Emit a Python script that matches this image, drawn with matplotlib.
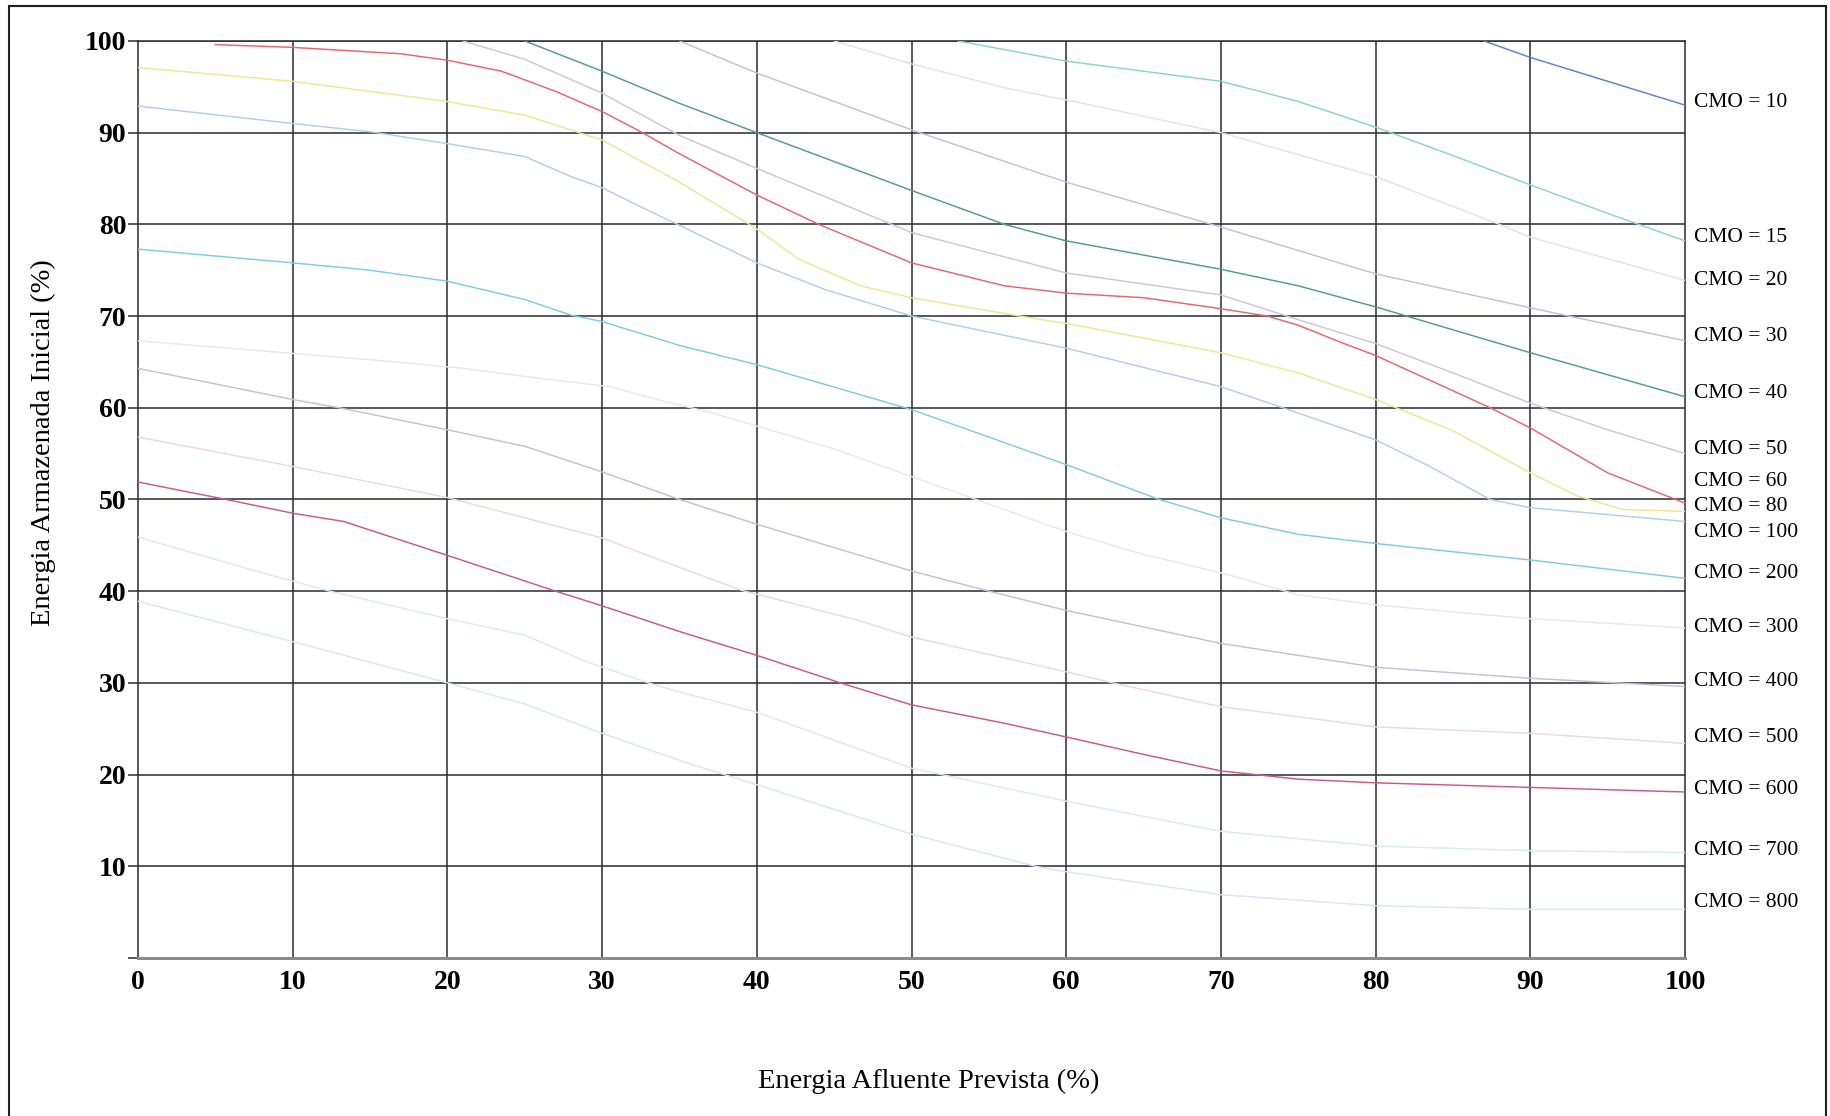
import matplotlib
matplotlib.use("Agg")
import matplotlib.pyplot as plt
from matplotlib.patches import Rectangle

# curves (x = energia afluente %, y = armazenamento %)
cmo10_x = [87, 90, 95, 100]
cmo10_y = [100, 98.2, 95.6, 93.0]
cmo15_x = [53, 60, 70, 75, 80, 85, 90, 95, 100]
cmo15_y = [100, 97.8, 95.6, 93.4, 90.6, 87.5, 84.3, 81.2, 78.2]
cmo20_x = [45, 50, 56, 60.5, 70, 80, 88, 90, 100]
cmo20_y = [100, 97.5, 94.9, 93.4, 90.0, 85.2, 80.0, 78.6, 73.9]
cmo30_x = [35, 40, 50, 60, 70, 80, 90, 100]
cmo30_y = [100, 96.5, 90.3, 84.6, 79.7, 74.6, 70.9, 67.3]
cmo40_x = [25, 30, 35, 40, 50, 56, 60, 70, 75, 80, 90, 100]
cmo40_y = [100, 96.7, 93.2, 90.0, 83.7, 80.0, 78.2, 75.1, 73.3, 71.0, 66.0, 61.2]
cmo50_x = [21, 25, 30, 35, 40, 50, 60, 70, 75, 80, 85, 90, 95, 100]
cmo50_y = [100, 98.0, 94.3, 89.7, 86.1, 79.1, 74.7, 72.3, 69.6, 67.0, 63.8, 60.5, 57.6, 55.0]
cmo60_x = [5, 10, 17, 20, 23.5, 27, 30, 32.5, 35, 40, 44, 50, 56, 60, 65, 70, 73, 75,
           77.8, 80, 87.4, 90, 95, 100]
cmo60_y = [99.6, 99.3, 98.6, 97.9, 96.7, 94.5, 92.3, 90.1, 87.7, 83.2, 80.0, 75.8, 73.3,
           72.5, 72.0, 70.8, 70.0, 69.0, 67.1, 65.7, 60.0, 57.8, 52.9, 49.6]
cmo80_x = [0, 10, 20, 25, 30, 35, 40, 42.7, 46.7, 50, 57, 60, 70, 75, 80, 85, 90, 93, 96, 100]
cmo80_y = [97.1, 95.6, 93.4, 91.9, 89.2, 84.6, 79.5, 76.2, 73.3, 72.0, 70.0, 69.2, 66.0,
           63.8, 60.9, 57.5, 52.9, 50.4, 48.9, 48.7]
cmo100_x = [0, 10, 15, 20, 25, 28, 30, 33, 35, 40, 44.4, 50, 60, 70, 74, 80, 83.5, 87.4, 90, 100]
cmo100_y = [92.9, 91.0, 90.1, 88.8, 87.4, 85.2, 84.0, 81.5, 79.9, 75.8, 72.9, 70.0, 66.5,
            62.3, 60.0, 56.5, 53.6, 50.0, 49.1, 47.6]
cmo200_x = [0, 10, 15, 20, 25, 28, 30, 35, 40, 50, 60, 66, 70, 75, 80, 90, 100]
cmo200_y = [77.3, 75.8, 75.0, 73.8, 71.8, 70.1, 69.4, 66.8, 64.7, 59.8, 53.8, 50.0, 48.0,
            46.2, 45.2, 43.4, 41.4]
cmo300_x = [0, 8, 16, 21, 26, 30.5, 34, 37, 45, 50, 55, 60, 65, 70, 75, 80, 90, 100]
cmo300_y = [67.3, 66.2, 65.1, 64.3, 63.2, 62.3, 60.7, 59.5, 55.5, 52.5, 49.5, 46.5, 44.0,
            42.0, 39.6, 38.5, 37.0, 36.0]
cmo400_x = [0, 10, 13, 20, 25, 30, 35, 40, 50, 55, 60, 70, 80, 90, 100]
cmo400_y = [64.3, 60.9, 60.0, 57.6, 55.8, 53.0, 50.0, 47.3, 42.2, 40.0, 37.9, 34.3, 31.7, 30.5, 29.6]
cmo500_x = [0, 10, 20, 30, 35, 39, 46.6, 50, 60, 63, 70, 80, 90, 100]
cmo500_y = [56.8, 53.6, 50.2, 45.8, 42.6, 40.1, 36.8, 35.0, 31.2, 30.0, 27.4, 25.2, 24.5, 23.4]
cmo600_x = [0, 5.7, 10, 13.3, 20, 27, 30, 35, 40, 45.4, 50, 56, 60, 65, 70, 75, 80, 90, 100]
cmo600_y = [51.9, 50.0, 48.5, 47.6, 43.9, 40.0, 38.4, 35.6, 33.0, 30.0, 27.6, 25.6, 24.1,
            22.2, 20.4, 19.5, 19.1, 18.6, 18.1]
cmo700_x = [0, 7.6, 12.4, 20, 25, 29, 33, 35, 40, 50, 60, 70, 80, 90, 100]
cmo700_y = [45.9, 42.2, 40.0, 37.0, 35.2, 32.3, 30.0, 29.0, 26.8, 20.7, 17.1, 13.8, 12.2, 11.7, 11.5]
cmo800_x = [0, 10, 20, 25, 30, 35.6, 40, 50, 58, 60, 70, 80, 90, 100]
cmo800_y = [38.9, 34.5, 30.0, 27.7, 24.5, 21.2, 18.9, 13.5, 10.0, 9.4, 6.9, 5.7, 5.3, 5.3]

cmo_names = ["10", "15", "20", "30", "40", "50", "60", "80", "100", "200",
             "300", "400", "500", "600", "700", "800"]
curves_x = [cmo10_x, cmo15_x, cmo20_x, cmo30_x, cmo40_x, cmo50_x, cmo60_x, cmo80_x,
            cmo100_x, cmo200_x, cmo300_x, cmo400_x, cmo500_x, cmo600_x, cmo700_x, cmo800_x]
curves_y = [cmo10_y, cmo15_y, cmo20_y, cmo30_y, cmo40_y, cmo50_y, cmo60_y, cmo80_y,
            cmo100_y, cmo200_y, cmo300_y, cmo400_y, cmo500_y, cmo600_y, cmo700_y, cmo800_y]

colors = ["#5a84c4", "#8ad4c8", "#ebdfe2", "#c2c0dc", "#4f9e84", "#cdc4de", "#e46470",
          "#f2e490", "#b0cfea", "#80cae2", "#e6e9f0", "#c9bdd8", "#ecd9da", "#c8588e",
          "#d6ecf4", "#dae6f1"]
# label heights on the right margin (staggered in the original)
label_y = [93.3, 78.6, 73.9, 67.8, 61.6, 55.5, 52.0, 49.2, 46.4, 41.9, 36.0, 30.2, 24.0,
           18.4, 11.7, 6.1]

plt.rcParams['font.family'] = ['Liberation Serif', 'DejaVu Serif']
grid_col = '#2a2a35'

fig = plt.figure(figsize=(18.3, 11.16), dpi=100)
ax = fig.add_axes([0.0754, 0.1416, 0.8454, 0.8217])
ax.set_xlim(0, 100)
ax.set_ylim(0, 100)

for yv in range(10, 101, 10):
    ax.axhline(yv, color=grid_col, lw=1.1, zorder=1)
for xv in range(10, 100, 10):
    ax.axvline(xv, color=grid_col, lw=1.1, zorder=1)

for xs, ys, c in zip(curves_x, curves_y, colors):
    ax.plot(xs, ys, color=c, lw=1.05, zorder=3)

for name, ly in zip(cmo_names, label_y):
    ax.text(100.6, ly, "CMO = " + name, fontsize=15.5, ha='left', va='center', clip_on=False)

for s in ['left', 'right', 'top']:
    ax.spines[s].set_color(grid_col)
    ax.spines[s].set_linewidth(1.1)
ax.spines['bottom'].set_color('#8c8c8c')
ax.spines['bottom'].set_linewidth(2.2)

ax.set_xticks(range(0, 101, 10))
ax.set_yticks(range(0, 101, 10))
ax.set_yticklabels([''] + [str(v) for v in range(10, 101, 10)])
ax.tick_params(axis='y', direction='out', length=7, width=1.1, color=grid_col, pad=1.5, labelsize=20)
ax.tick_params(axis='x', length=0, pad=9, labelsize=20)
for t in ax.get_xticklabels() + ax.get_yticklabels():
    t.set_fontweight('bold')

fig.text(0.0240, 0.603, "Energia Armazenada Inicial (%)", rotation=90, fontsize=20.5,
         ha='center', va='center')
fig.text(0.5077, 0.0314, "Energia Afluente Prevista (%)", fontsize=20.5, ha='center', va='center')

fig.add_artist(Rectangle((0.0049, -0.05), 0.9929, 1.0446, transform=fig.transFigure,
                         fill=False, edgecolor='#202020', lw=1.5))

fig.savefig("out.png", dpi=100)
